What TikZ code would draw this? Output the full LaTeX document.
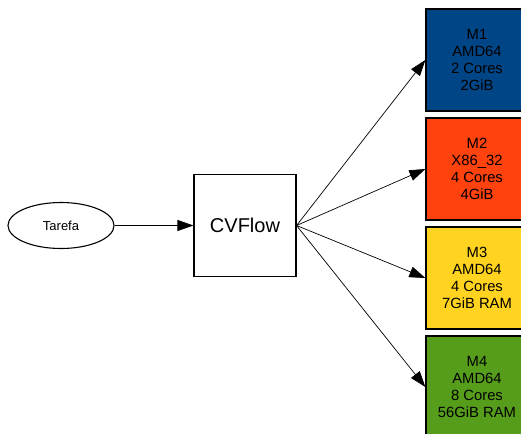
\documentclass[tikz,border=0pt]{standalone}
\usepackage{fontspec}
\setmainfont{Liberation Sans}
\usetikzlibrary{arrows.meta,shapes.geometric}
\definecolor{mblue}{HTML}{004586}
\definecolor{morange}{HTML}{FF420E}
\definecolor{myellow}{HTML}{FFD320}
\definecolor{mgreen}{HTML}{579D1C}
\tikzset{
  machine/.style={draw=black, line width=1.3pt, minimum width=102pt, minimum height=102pt,
    inner sep=0pt, align=center, font=\fontsize{14.8}{16.8}\selectfont},
  link/.style={draw=black, line width=0.7pt, -{Triangle[length=16pt,width=11pt]}},
}
\begin{document}
\begin{tikzpicture}[x=1pt,y=-1pt]
  \useasboundingbox (0,0) rectangle (521,433);
  \begin{scope}
    \clip (0,0) rectangle (521,433);
    \node[draw=black, line width=1.1pt, ellipse, minimum width=106pt, minimum height=46pt,
      inner sep=0pt, font=\fontsize{13}{15}\selectfont] (task) at (61,225.5) {Tarefa};
    \node[draw=black, line width=1.1pt, minimum width=102pt, minimum height=102pt,
      inner sep=0pt, font=\fontsize{20}{24}\selectfont] (flow) at (245,225.5) {CVFlow};
    \node[machine, fill=mblue] (m1) at (477,60) {M1\\AMD64\\2 Cores\\2GiB};
    \node[machine, fill=morange] (m2) at (477,169) {M2\\X86\_32\\4 Cores\\4GiB};
    \node[machine, fill=myellow] (m3) at (477,278) {M3\\AMD64\\4 Cores\\7GiB RAM};
    \node[machine, fill=mgreen] (m4) at (477,387) {M4\\AMD64\\8 Cores\\56GiB RAM};
    \coordinate (hub) at (flow.east);
    \draw[link] (task.east) -- (flow.west);
    \draw[link] (hub) -- (m1.west);
    \draw[link] (hub) -- (m2.west);
    \draw[link] (hub) -- (m3.west);
    \draw[link] (hub) -- (m4.west);
  \end{scope}
\end{tikzpicture}
\end{document}
